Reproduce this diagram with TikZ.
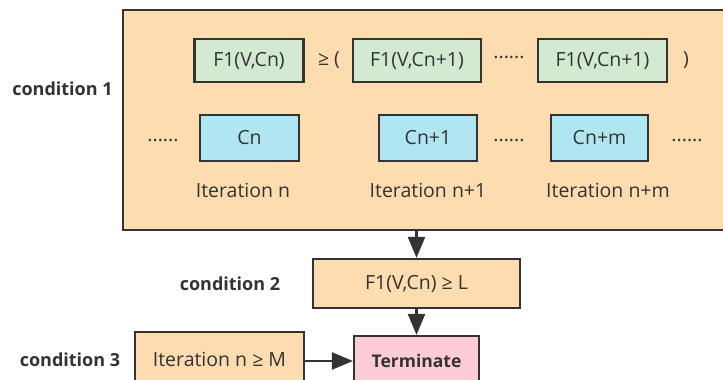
\documentclass[tikz,border=0pt]{standalone}
\usepackage{fontspec}
\setmainfont{Open Sans}
\usetikzlibrary{arrows.meta}

\definecolor{linecol}{HTML}{333333}
\definecolor{peach}{HTML}{FDDCB0}
\definecolor{mint}{HTML}{D3E9D2}
\definecolor{sky}{HTML}{B0E6F1}
\definecolor{rose}{HTML}{FDCCD6}

\tikzset{
	box/.style={draw=linecol, line width=2.2pt, inner sep=0pt, text=linecol},
	fbox/.style={box, fill=mint, minimum height=43pt},
	cbox/.style={box, fill=sky, minimum height=46pt},
	obox/.style={box, fill=peach},
	label/.style={text=linecol},
	cond/.style={text=linecol, font=\fontsize{18}{21}\selectfont\bfseries},
	arr/.style={draw=linecol, line width=2.4pt, -{Triangle[width=17pt,length=21pt]}}
}

\begin{document}
\begin{tikzpicture}[x=1pt, y=-1pt, font=\fontsize{19.5}{23}\selectfont]
	\useasboundingbox (0,0) rectangle (723,380);

	% condition 1 block
	\node[obox, minimum width=604pt, minimum height=220pt, anchor=north west] (main) at (122,9) {};
	\node[fbox, minimum width=109pt] (f0) at (249,60.5) {F1(V,Cn)};
	\node[label] (ge) at (329,60.5) {≥ (};
	\node[fbox, minimum width=128pt] (f1) at (417,60.5) {F1(V,Cn+1)};
	\node[label] (d0) at (509,57) {......};
	\node[fbox, minimum width=129pt] (f2) at (602.5,60.5) {F1(V,Cn+1)};
	\node[label] (cp) at (686,60.5) {)};

	\node[label] (d1) at (163,140) {......};
	\node[cbox, minimum width=99pt] (c0) at (249.5,138) {Cn};
	\node[cbox, minimum width=98pt] (c1) at (428,138) {Cn+1};
	\node[label] (d2) at (509,140) {......};
	\node[cbox, minimum width=97pt] (c2) at (599.5,138) {Cn+m};
	\node[label] (d3) at (687,140) {......};

	\node[label] (it0) at (243,190) {Iteration n};
	\node[label] (it1) at (428,190) {Iteration n+1};
	\node[label] (it2) at (608,190) {Iteration n+m};

	% conditions 2 and 3
	\node[obox, minimum width=207pt, minimum height=49pt] (l2) at (416.5,283.5) {F1(V,Cn) ≥ L};
	\node[obox, minimum width=169pt, minimum height=54pt] (m3) at (219.5,359) {Iteration n ≥ M};
	\node[box, fill=rose, minimum width=125pt, minimum height=50pt, font=\fontsize{17.5}{21}\selectfont\bfseries] (term) at (416.5,361) {Terminate};

	\node[cond] (k1) at (62.5,89) {condition 1};
	\node[cond] (k2) at (230,284) {condition 2};
	\node[cond] (k3) at (70,360) {condition 3};

	\draw[arr] (main.south -| l2.north) -- (l2.north);
	\draw[arr] (l2.south) -- (term.north);
	\draw[arr] (m3.east |- term.west) -- (term.west);
\end{tikzpicture}
\end{document}
